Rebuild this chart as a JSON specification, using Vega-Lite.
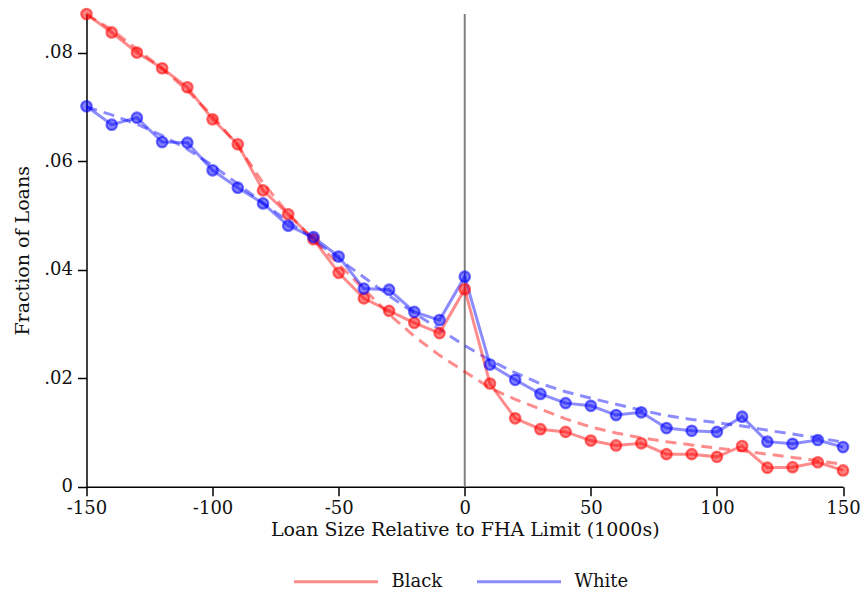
{
  "$schema": "https://vega.github.io/schema/vega-lite/v6.json",
  "autosize": "none",
  "width": 756.5,
  "height": 472.7,
  "padding": {"left": 86.5, "top": 14, "right": 19, "bottom": 108.3},
  "background": "white",
  "config": {
    "view": {"stroke": null},
    "font": "DejaVu Serif",
    "axis": {
      "grid": false,
      "domainColor": "#000000",
      "domainWidth": 1.5,
      "tickColor": "#000000",
      "tickWidth": 1.5,
      "tickSize": 9,
      "labelFont": "DejaVu Serif",
      "labelFontSize": 18,
      "labelColor": "#111111",
      "titleFont": "DejaVu Serif",
      "titleFontSize": 19,
      "titleFontWeight": "normal",
      "titleColor": "#111111"
    },
    "legend": {
      "labelFont": "DejaVu Serif",
      "labelFontSize": 18,
      "labelColor": "#111111"
    }
  },
  "data": {
    "values": [
      {"x": -150, "group": "Black", "share": 0.0871, "fit": 0.0870},
      {"x": -140, "group": "Black", "share": 0.0837, "fit": 0.0842},
      {"x": -130, "group": "Black", "share": 0.0800, "fit": 0.0806},
      {"x": -120, "group": "Black", "share": 0.0771, "fit": 0.0770},
      {"x": -110, "group": "Black", "share": 0.0736, "fit": 0.0730},
      {"x": -100, "group": "Black", "share": 0.0677, "fit": 0.0683},
      {"x": -90, "group": "Black", "share": 0.0631, "fit": 0.0628},
      {"x": -80, "group": "Black", "share": 0.0546, "fit": 0.0560},
      {"x": -70, "group": "Black", "share": 0.0502, "fit": 0.0503},
      {"x": -60, "group": "Black", "share": 0.0456, "fit": 0.0455},
      {"x": -50, "group": "Black", "share": 0.0394, "fit": 0.0410},
      {"x": -40, "group": "Black", "share": 0.0347, "fit": 0.0364},
      {"x": -30, "group": "Black", "share": 0.0324, "fit": 0.0318},
      {"x": -20, "group": "Black", "share": 0.0302, "fit": 0.0277},
      {"x": -10, "group": "Black", "share": 0.0283, "fit": 0.0242},
      {"x": 0, "group": "Black", "share": 0.0364, "fit": 0.0212},
      {"x": 10, "group": "Black", "share": 0.0190, "fit": 0.0182},
      {"x": 20, "group": "Black", "share": 0.0126, "fit": 0.0161},
      {"x": 30, "group": "Black", "share": 0.0106, "fit": 0.0143},
      {"x": 40, "group": "Black", "share": 0.0101, "fit": 0.0125},
      {"x": 50, "group": "Black", "share": 0.0085, "fit": 0.0110},
      {"x": 60, "group": "Black", "share": 0.0076, "fit": 0.0099},
      {"x": 70, "group": "Black", "share": 0.0080, "fit": 0.0090},
      {"x": 80, "group": "Black", "share": 0.0060, "fit": 0.0083},
      {"x": 90, "group": "Black", "share": 0.0060, "fit": 0.0077},
      {"x": 100, "group": "Black", "share": 0.0055, "fit": 0.0071},
      {"x": 110, "group": "Black", "share": 0.0075, "fit": 0.0066},
      {"x": 120, "group": "Black", "share": 0.0035, "fit": 0.0060},
      {"x": 130, "group": "Black", "share": 0.0036, "fit": 0.0054},
      {"x": 140, "group": "Black", "share": 0.0045, "fit": 0.0048},
      {"x": 150, "group": "Black", "share": 0.0030, "fit": 0.0041},
      {"x": -150, "group": "White", "share": 0.0701, "fit": 0.0700},
      {"x": -140, "group": "White", "share": 0.0667, "fit": 0.0685},
      {"x": -130, "group": "White", "share": 0.0680, "fit": 0.0668},
      {"x": -120, "group": "White", "share": 0.0635, "fit": 0.0647},
      {"x": -110, "group": "White", "share": 0.0634, "fit": 0.0622},
      {"x": -100, "group": "White", "share": 0.0583, "fit": 0.0592},
      {"x": -90, "group": "White", "share": 0.0551, "fit": 0.0558},
      {"x": -80, "group": "White", "share": 0.0522, "fit": 0.0523},
      {"x": -70, "group": "White", "share": 0.0481, "fit": 0.0489},
      {"x": -60, "group": "White", "share": 0.0460, "fit": 0.0455},
      {"x": -50, "group": "White", "share": 0.0424, "fit": 0.0420},
      {"x": -40, "group": "White", "share": 0.0365, "fit": 0.0386},
      {"x": -30, "group": "White", "share": 0.0363, "fit": 0.0352},
      {"x": -20, "group": "White", "share": 0.0322, "fit": 0.0320},
      {"x": -10, "group": "White", "share": 0.0307, "fit": 0.0290},
      {"x": 0, "group": "White", "share": 0.0387, "fit": 0.0260},
      {"x": 10, "group": "White", "share": 0.0225, "fit": 0.0233},
      {"x": 20, "group": "White", "share": 0.0197, "fit": 0.0210},
      {"x": 30, "group": "White", "share": 0.0171, "fit": 0.0190},
      {"x": 40, "group": "White", "share": 0.0154, "fit": 0.0175},
      {"x": 50, "group": "White", "share": 0.0149, "fit": 0.0163},
      {"x": 60, "group": "White", "share": 0.0132, "fit": 0.0152},
      {"x": 70, "group": "White", "share": 0.0137, "fit": 0.0141},
      {"x": 80, "group": "White", "share": 0.0108, "fit": 0.0131},
      {"x": 90, "group": "White", "share": 0.0103, "fit": 0.0124},
      {"x": 100, "group": "White", "share": 0.0101, "fit": 0.0118},
      {"x": 110, "group": "White", "share": 0.0129, "fit": 0.0112},
      {"x": 120, "group": "White", "share": 0.0083, "fit": 0.0104},
      {"x": 130, "group": "White", "share": 0.0079, "fit": 0.0097},
      {"x": 140, "group": "White", "share": 0.0086, "fit": 0.0090},
      {"x": 150, "group": "White", "share": 0.0073, "fit": 0.0082}
    ]
  },
  "encoding": {
    "x": {
      "field": "x",
      "type": "quantitative",
      "scale": {"domain": [-150, 150], "nice": false, "zero": false},
      "axis": {
        "title": "Loan Size Relative to FHA Limit (1000s)",
        "values": [-150, -100, -50, 0, 50, 100, 150],
        "labelExpr": "'' + datum.value",
        "labelFlush": false,
        "labelOverlap": false,
        "labelPadding": 4,
        "titlePadding": 3
      }
    },
    "y": {
      "type": "quantitative",
      "scale": {"domain": [0, 0.0871], "nice": false},
      "axis": {
        "title": "Fraction of Loans",
        "values": [0, 0.02, 0.04, 0.06, 0.08],
        "labelExpr": "datum.value == 0 ? '0' : replace(format(datum.value, '.2f'), '0.', '.')",
        "labelFlush": false,
        "labelPadding": 5,
        "titlePadding": 11
      }
    },
    "color": {
      "field": "group",
      "type": "nominal",
      "scale": {"domain": ["Black", "White"], "range": ["#ff0000", "#0000ff"]},
      "legend": {
        "title": null,
        "orient": "none",
        "direction": "horizontal",
        "legendX": 206,
        "legendY": 524,
        "symbolType": "stroke",
        "symbolSize": 7056,
        "symbolStrokeWidth": 3,
        "symbolOpacity": 0.45,
        "labelOffset": 12,
        "columnPadding": 28
      }
    }
  },
  "layer": [
    {
      "data": {"values": [{"x": 0}]},
      "mark": {"type": "rule", "color": "#808080", "strokeWidth": 2},
      "encoding": {"x": {"field": "x", "type": "quantitative"}, "y": null, "color": null}
    },
    {
      "mark": {"type": "line", "strokeWidth": 3, "strokeDash": [11, 7], "opacity": 0.45},
      "encoding": {"y": {"field": "fit"}}
    },
    {
      "mark": {"type": "line", "strokeWidth": 3, "opacity": 0.45},
      "encoding": {"y": {"field": "share"}}
    },
    {
      "mark": {"type": "point", "shape": "circle", "size": 110, "filled": true, "fillOpacity": 0.5, "strokeOpacity": 0.55, "strokeWidth": 2.2},
      "encoding": {"y": {"field": "share"}, "stroke": {"field": "group", "type": "nominal", "scale": {"domain": ["Black", "White"], "range": ["#ff0000", "#0000ff"]}, "legend": null}}
    }
  ]
}
